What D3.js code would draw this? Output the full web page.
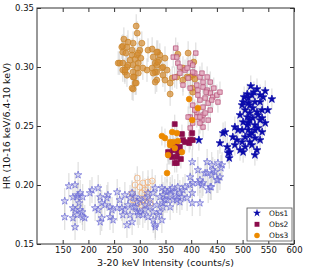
<!DOCTYPE html>
<html>
<head>
<meta charset="utf-8">
<script src="https://cdn.jsdelivr.net/npm/d3@7"></script>
<style>
  body { margin: 0; background: #fff; }
  svg { font-family: "DejaVu Sans", sans-serif; }
</style>
</head>
<body>
<div id="chart"></div>
<script>
// Obs1 - bright state (filled stars)
const obs1X = [516,528,544,557,509,518,501,499,511,524,534,540,549,538,528,514,509,520,534,501,544,511,524,530,511,499,485,491,538,518,505,524,499,481,485,505,514,528,501,470,475,474,466,415,456,472,462,514,520,530,505,514,524,514,534,518,509,495,538,511,503,522,534,489,495,524];
const obs1Y = [0.2838,0.2813,0.2796,0.2728,0.2771,0.2762,0.2703,0.2677,0.2694,0.2703,0.2703,0.2745,0.2635,0.2635,0.2618,0.2610,0.2576,0.2567,0.2550,0.2533,0.2525,0.2525,0.2508,0.2483,0.2466,0.2466,0.2491,0.2466,0.2449,0.2440,0.2406,0.2398,0.2364,0.2406,0.2339,0.2322,0.2364,0.2296,0.2279,0.2322,0.2279,0.2228,0.2449,0.2381,0.2355,0.2271,0.2440,0.2677,0.2652,0.2593,0.2635,0.2550,0.2466,0.2423,0.2381,0.2339,0.2508,0.2593,0.2567,0.2737,0.2745,0.2787,0.2762,0.2381,0.2296,0.2254];

// Obs1 - faint branch (open stars)
const obs1bX = [180,162,154,154,174,170,178,180,184,189,174,170,178,184,188,170,189,193,174,182,207,203,219,223,226,219,213,223,226,236,238,242,246,232,242,248,256,261,256,265,267,275,271,281,285,277,287,295,285,291,300,310,316,326,330,343,353,359,368,378,384,388,398,402,392,378,365,353,345,333,320,310,300,291,326,335,343,326,316,330,306,297,359,372,345,398,403,413,421,417,427,440,446,452,440,460,431,402,413,437,417,402,442,456,450,431,423,433,439,382,372,349,359,345,339,330,452,458,339,349,363,374,320,310,295,281,271];
const obs1bY = [0.2085,0.1991,0.1864,0.1729,0.2000,0.1898,0.1898,0.1915,0.1932,0.1898,0.1788,0.1805,0.1746,0.1788,0.1771,0.1720,0.1729,0.1720,0.1644,0.1847,0.1957,0.1932,0.1974,0.1898,0.1847,0.1788,0.1805,0.1686,0.1720,0.1890,0.1915,0.1813,0.1788,0.1830,0.1729,0.1703,0.1940,0.1873,0.1805,0.1805,0.1746,0.1661,0.1788,0.1746,0.1686,0.1830,0.1813,0.1771,0.1932,0.1898,0.1873,0.1890,0.1932,0.1932,0.1974,0.1974,0.1940,0.1957,0.1940,0.1932,0.1957,0.1983,0.2000,0.1932,0.1890,0.1856,0.1873,0.1873,0.1847,0.1830,0.1813,0.1788,0.1771,0.1813,0.1771,0.1746,0.1703,0.1703,0.1729,0.1644,0.1746,0.1746,0.1915,0.1898,0.1915,0.2067,0.2017,0.2017,0.2000,0.2042,0.2101,0.2084,0.2110,0.2042,0.2169,0.2169,0.2195,0.2195,0.2127,0.1983,0.1847,0.1847,0.2127,0.2067,0.2042,0.2101,0.2017,0.1957,0.1983,0.1898,0.1873,0.1873,0.1813,0.1813,0.1771,0.1661,0.2186,0.2144,0.1898,0.1957,0.1974,0.1983,0.1873,0.1830,0.1856,0.1890,0.1915];

// Obs2 - filled squares
const obs2X = [368,382,398,396,388,370,378,365,355,374,372,363,368,359,380,402,403,384,367,357,372,378];
const obs2Y = [0.2516,0.2432,0.2381,0.2355,0.2364,0.2355,0.2322,0.2296,0.2279,0.2279,0.2237,0.2237,0.2186,0.2254,0.2220,0.2440,0.2381,0.2381,0.2322,0.2254,0.2186,0.2279];

// Obs2 - open squares
const obs2bX = [370,409,365,374,398,388,378,368,394,407,417,431,423,411,384,398,403,421,437,423,413,431,437,442,427,417,433,423,437,411,423,411,398,421,403,423,398,400,450,456,452,440,394,417,427,417,372,378,392,403,407,403,413,429,444,433];
const obs2bY = [0.3160,0.3118,0.3084,0.3033,0.3033,0.2974,0.2948,0.2915,0.2906,0.2948,0.2915,0.2915,0.2872,0.2847,0.2847,0.2821,0.2957,0.2948,0.2872,0.2830,0.2804,0.2804,0.2779,0.2745,0.2737,0.2720,0.2694,0.2660,0.2635,0.2618,0.2593,0.2576,0.2576,0.2550,0.2525,0.2491,0.2483,0.2432,0.2762,0.2787,0.2703,0.2720,0.2576,0.2576,0.2610,0.2525,0.3084,0.2999,0.2991,0.3016,0.2635,0.2677,0.2762,0.2787,0.2821,0.2550];

// Obs3 - filled circles
const obs3X = [343,363,372,359,365,374,359,368,382,355,353,402,413,396,349];
const obs3Y = [0.2415,0.2449,0.2440,0.2364,0.2364,0.2372,0.2339,0.2313,0.2279,0.2254,0.2101,0.2550,0.2652,0.2728,0.2398];

// Obs3 - high HR branch (shaded circles)
const obs3bX = [258,265,269,277,293,295,287,285,295,300,304,281,287,275,267,271,287,295,297,289,291,287,314,316,330,333,333,267,275,267,273,285,297,302,291,261,267,277,297,271,275,287,293,285,326,335,339,337,333,324,343,330,345,353,349,363,359,394,405,384,392,324,333,349,335,345,326,372,330,384,374,398,403,407,402,403,359,306];
const obs3bY = [0.3033,0.3169,0.3236,0.3211,0.3347,0.3287,0.3202,0.3143,0.3101,0.3143,0.3202,0.3058,0.3016,0.2999,0.2974,0.2957,0.2957,0.2991,0.2948,0.2915,0.2864,0.2813,0.2974,0.3143,0.3033,0.2957,0.2889,0.3177,0.3169,0.3126,0.3118,0.3101,0.3118,0.3075,0.3067,0.3033,0.3033,0.3016,0.3033,0.2974,0.2931,0.2915,0.2864,0.2821,0.3084,0.3126,0.3101,0.3058,0.3016,0.2991,0.2991,0.2957,0.2931,0.2974,0.2889,0.2906,0.2864,0.3118,0.3042,0.2991,0.2915,0.3152,0.3126,0.3075,0.3042,0.2999,0.2948,0.2915,0.2872,0.2889,0.3109,0.2915,0.2931,0.2898,0.2821,0.2787,0.2771,0.2991];

// Obs3 - low HR branch (open circles)
const obs3cX = [295,291,300,306,316,324,310,304,314,316,306,297,304,320,287,285];
const obs3cY = [0.2059,0.2000,0.1983,0.2017,0.2025,0.2034,0.1957,0.1932,0.1898,0.1974,0.1873,0.1847,0.1830,0.1847,0.1873,0.1932];

const xTicks = [150, 200, 250, 300, 350, 400, 450, 500, 550, 600];
const yTicks = [0.15, 0.20, 0.25, 0.30, 0.35];
const legendLabels = ["Obs1", "Obs2", "Obs3"];

const width = 310, height = 269;
const margin = {left: 37, right: 16, top: 8, bottom: 25};
const iw = width - margin.left - margin.right;
const ih = height - margin.top - margin.bottom;

const svg = d3.select('#chart').append('svg')
    .attr('width', width)
    .attr('height', height);

const x = d3.scaleLinear().domain([100, 600]).range([margin.left, margin.left + iw]);
const y = d3.scaleLinear().domain([0.15, 0.35]).range([margin.top + ih, margin.top]);

function zip(xs, ys) { return xs.map((v, i) => ({x: v, y: ys[i]})); }

const series = [
    {pts: zip(obs3cX, obs3cY), shape: 'circle', size: 28, fill: 'none', stroke: '#f3ac70', err: 0.010},
    {pts: zip(obs1bX, obs1bY), shape: 'star', size: 17, fill: 'rgba(175,175,240,0.35)', stroke: '#6666d4', err: 0.011},
    {pts: zip(obs3bX, obs3bY), shape: 'circle', size: 28, fill: 'rgba(212,140,48,0.7)', stroke: '#c9842a', err: 0.010},
    {pts: zip(obs2bX, obs2bY), shape: 'square', size: 20, fill: 'rgba(228,170,192,0.85)', stroke: '#b54a74', err: 0.009},
    {pts: zip(obs2X, obs2Y), shape: 'square', size: 24, fill: '#8c0c4c', stroke: '#8c0c4c', err: 0.008},
    {pts: zip(obs3X, obs3Y), shape: 'circle', size: 26, fill: '#ec8a00', stroke: '#ec8a00', err: 0.008},
    {pts: zip(obs1X, obs1Y), shape: 'star', size: 19, fill: '#0a0aaa', stroke: '#0a0aaa', err: 0.009}
];

const symbolType = {circle: d3.symbolCircle, square: d3.symbolSquare, star: d3.symbolStar};

// Error bars
const errG = svg.append('g');
series.forEach(s => {
    errG.selectAll(null)
        .data(s.pts)
        .enter().append('line')
        .attr('x1', d => x(d.x))
        .attr('x2', d => x(d.x))
        .attr('y1', d => y(d.y - s.err))
        .attr('y2', d => y(d.y + s.err))
        .attr('stroke', '#c8c8c8')
        .attr('stroke-opacity', 0.7)
        .attr('stroke-width', 1);
});

// Markers
series.forEach(s => {
    svg.append('g').selectAll('path')
        .data(s.pts)
        .enter().append('path')
        .attr('transform', d => `translate(${x(d.x)},${y(d.y)})`)
        .attr('d', d3.symbol().type(symbolType[s.shape]).size(s.size))
        .attr('fill', s.fill)
        .attr('stroke', s.stroke)
        .attr('stroke-width', 0.7);
});

// Axes (inward ticks, mirrored)
const tickLen = 4;

svg.append('rect')
    .attr('x', margin.left).attr('y', margin.top)
    .attr('width', iw).attr('height', ih)
    .attr('fill', 'none').attr('stroke', '#333').attr('stroke-width', 1);

const axBottom = svg.append('g')
    .attr('transform', `translate(0,${margin.top + ih})`)
    .call(d3.axisBottom(x).tickValues(xTicks).tickSizeInner(-tickLen).tickSizeOuter(0).tickPadding(3));
const axTop = svg.append('g')
    .attr('transform', `translate(0,${margin.top})`)
    .call(d3.axisTop(x).tickValues(xTicks).tickSizeInner(-tickLen).tickSizeOuter(0).tickFormat(''));
const axLeft = svg.append('g')
    .attr('transform', `translate(${margin.left},0)`)
    .call(d3.axisLeft(y).tickValues(yTicks).tickSizeInner(-tickLen).tickSizeOuter(0).tickPadding(3).tickFormat(d3.format('.2f')));
const axRight = svg.append('g')
    .attr('transform', `translate(${margin.left + iw},0)`)
    .call(d3.axisRight(y).tickValues(yTicks).tickSizeInner(-tickLen).tickSizeOuter(0).tickFormat(''));

[axBottom, axTop, axLeft, axRight].forEach(a => {
    a.select('.domain').remove();
    a.selectAll('line').attr('stroke', '#333');
    a.selectAll('text').attr('font-size', 8.5).attr('font-family', '"DejaVu Sans", sans-serif').attr('fill', '#111');
});

// Axis labels
svg.append('text')
    .attr('x', margin.left + iw / 2)
    .attr('y', 266)
    .attr('text-anchor', 'middle')
    .attr('font-size', 9.5)
    .attr('fill', '#111')
    .text('3-20 keV Intensity (counts/s)');

svg.append('text')
    .attr('transform', `translate(10,${margin.top + ih / 2}) rotate(-90)`)
    .attr('text-anchor', 'middle')
    .attr('font-size', 9.5)
    .attr('fill', '#111')
    .text('HR (10-16 keV/6.4-10 keV)');

// Legend
const legend = svg.append('g').attr('transform', 'translate(247,208)');
legend.append('rect')
    .attr('width', 45).attr('height', 33)
    .attr('fill', '#fff').attr('stroke', '#555').attr('stroke-width', 0.8);

const legendItems = [
    {label: legendLabels[0], shape: 'star', color: '#0a0aaa', size: 20},
    {label: legendLabels[1], shape: 'square', color: '#8c0c4c', size: 24},
    {label: legendLabels[2], shape: 'circle', color: '#ec8a00', size: 24}
];
legendItems.forEach((it, i) => {
    legend.append('path')
        .attr('transform', `translate(10,${5 + i * 11.3})`)
        .attr('d', d3.symbol().type(symbolType[it.shape]).size(it.size))
        .attr('fill', it.color);
    legend.append('text')
        .attr('x', 22)
        .attr('y', 5 + i * 11.3)
        .attr('dy', '0.35em')
        .attr('font-size', 7.5)
        .attr('fill', '#111')
        .text(it.label);
});
</script>
</body>
</html>
